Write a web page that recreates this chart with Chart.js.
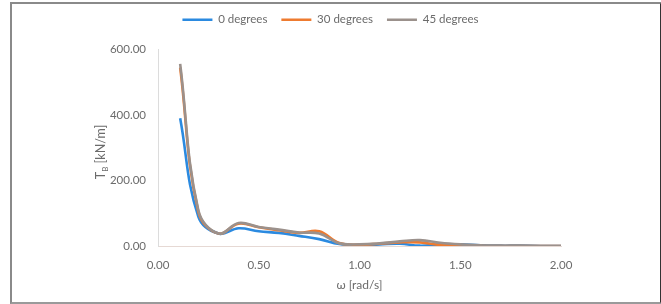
<!DOCTYPE html>
<html>
<head>
<meta charset="utf-8">
<script src="https://cdn.jsdelivr.net/npm/chart.js@4"></script>
<style>
  html, body { margin: 0; padding: 0; background: #fff; }
  #wrap { position: relative; width: 661px; height: 304px; }
  #frame { position: absolute; left: 10px; top: 2px; width: 648px; height: 298px;
           border: 2px solid #8a8a8a; border-right-color: #333; border-bottom-color: #9a9a9a; }
  canvas { position: absolute; left: 0; top: 0; }
</style>
</head>
<body>
<div id="wrap">
  <div id="frame"></div>
  <canvas id="grafica" width="661" height="304"></canvas>
</div>
<script>
// frecuencia ω [rad/s]
const omega = [0.11, 0.2, 0.3, 0.4, 0.5, 0.6, 0.7, 0.8, 0.9, 1.0, 1.1, 1.2, 1.3, 1.4, 1.5, 1.6, 1.7, 1.8, 1.9, 2.0];
// T_B [kN/m] por ángulo
const grados0  = [390, 90, 38, 54, 45, 40, 31, 21, 6, 3, 5, 7, 1, 5, 5, 2, 1, 1, 0, 0];
const grados30 = [545, 105, 38, 68, 57, 48, 40, 45, 9, 4, 7, 11, 11, 3, 0, 0, 0, 0, 0, 0];
const grados45 = [556, 110, 38, 70, 58, 50, 41, 38, 8, 5, 8, 14, 18, 10, 5, 2, 1, 1, 0, 0];
const etiquetas = ['0 degrees', '30 degrees', '45 degrees'];
const colores = ['#2b8ae0', '#ee7b30', '#9b918c'];

const FUENTE = 'Lato, "Liberation Sans", sans-serif';
const GRIS = '#6b6b6b';

function serie(i, valores, orden) {
    return {
        label: etiquetas[i],
        data: omega.map((x, k) => ({ x: x, y: valores[k] })),
        borderColor: colores[i],
        backgroundColor: colores[i],
        borderWidth: 2.6,
        pointRadius: 0,
        pointStyle: 'line',
        tension: 0.4,
        order: orden,
        yAxisID: 'y'
    };
}

// espacio extra bajo la leyenda
const espacioLeyenda = {
    id: 'espacioLeyenda',
    beforeInit(chart) {
        const fitOriginal = chart.legend.fit;
        chart.legend.fit = function () {
            fitOriginal.bind(chart.legend)();
            this.height += 14;
        };
    }
};

// título del eje Y con subíndice
const tituloY = {
    id: 'tituloY',
    afterDraw(chart) {
        const ctx = chart.ctx;
        ctx.save();
        ctx.translate(101, 152);
        ctx.rotate(-Math.PI / 2);
        ctx.fillStyle = GRIS;
        ctx.textBaseline = 'middle';
        const t1 = 'T', t2 = 'B', t3 = ' [kN/m]';
        ctx.font = '12.5px ' + FUENTE;
        const w1 = ctx.measureText(t1).width;
        const w3 = ctx.measureText(t3).width;
        ctx.font = '8px ' + FUENTE;
        const w2 = ctx.measureText(t2).width;
        let x = -(w1 + w2 + w3) / 2;
        ctx.font = '12.5px ' + FUENTE;
        ctx.fillText(t1, x, 0); x += w1;
        ctx.font = '8px ' + FUENTE;
        ctx.fillText(t2, x, 4); x += w2;
        ctx.font = '12.5px ' + FUENTE;
        ctx.fillText(t3, x, 0);
        ctx.restore();
    }
};

const ctx = document.getElementById('grafica').getContext('2d');
new Chart(ctx, {
    type: 'line',
    data: {
        datasets: [serie(0, grados0, 2), serie(1, grados30, 1), serie(2, grados45, 0)]
    },
    options: {
        responsive: false,
        animation: false,
        layout: { padding: { top: 0, left: 0, right: 0, bottom: 0 } },
        plugins: {
            legend: {
                position: 'top',
                labels: {
                    usePointStyle: true,
                    pointStyleWidth: 30,
                    boxHeight: 11,
                    padding: 14,
                    color: GRIS,
                    font: { family: FUENTE, size: 11.5 },
                    sort: (a, b) => a.datasetIndex - b.datasetIndex
                }
            },
            tooltip: { enabled: false }
        },
        scales: {
            x: {
                type: 'linear',
                min: 0, max: 2,
                grid: { display: false, drawTicks: false },
                border: { display: true, color: '#e6d9d4', width: 1 },
                ticks: {
                    stepSize: 0.5,
                    padding: 12,
                    color: GRIS,
                    font: { family: FUENTE, size: 11.5 },
                    callback: v => v.toFixed(2)
                },
                title: {
                    display: true,
                    text: 'ω [rad/s]',
                    color: GRIS,
                    font: { family: FUENTE, size: 12 },
                    padding: { top: 2, bottom: 12 }
                },
                afterFit(s) { s.height = 58; }
            },
            y: {
                position: 'left',
                min: 0, max: 600,
                grid: { display: false, drawTicks: false },
                border: { display: true, color: '#dcdcdc', width: 1 },
                ticks: {
                    stepSize: 200,
                    padding: 12,
                    color: GRIS,
                    font: { family: FUENTE, size: 11.5 },
                    callback: v => v.toFixed(2)
                },
                afterFit(s) { s.width = 158; }
            },
            yDer: {
                position: 'right',
                display: true,
                grid: { display: false, drawTicks: false },
                border: { display: false },
                ticks: { display: false },
                afterFit(s) { s.width = 100; }
            }
        }
    },
    plugins: [espacioLeyenda, tituloY]
});
</script>
</body>
</html>
